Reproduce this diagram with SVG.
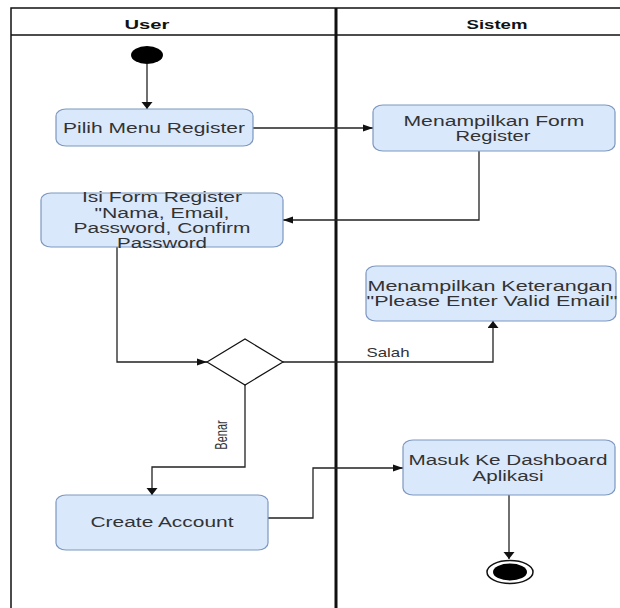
<svg xmlns="http://www.w3.org/2000/svg" width="620" height="608" viewBox="0 0 620 608">
<defs>
<style>
.lane{fill:none;stroke:#111;stroke-width:1.5}
.div{fill:none;stroke:#111;stroke-width:3}
.box{fill:#dae8fc;stroke:#7d97c0;stroke-width:1.2}
.t{font-family:"Liberation Sans",Arial,sans-serif;font-size:14px;fill:#333;text-anchor:middle}
.h{font-family:"Liberation Sans",Arial,sans-serif;font-size:13px;font-weight:bold;fill:#111;text-anchor:middle}
.lbl{font-family:"Liberation Sans",Arial,sans-serif;font-size:13px;fill:#333;text-anchor:middle}
.c{fill:none;stroke:#222;stroke-width:1.3}
</style>
<marker id="aH" markerUnits="userSpaceOnUse" markerWidth="12" markerHeight="10" refX="10" refY="4" orient="auto">
<path d="M0,0.5 L10,4 L0,7.5 Z" fill="#111"/>
</marker>
<marker id="aV" markerUnits="userSpaceOnUse" markerWidth="10" markerHeight="12" refX="7" refY="5.5" orient="auto">
<path d="M0,0 L7,5.5 L0,11 Z" fill="#111"/>
</marker>
</defs>
<rect width="620" height="608" fill="#fff"/>
<g id="swimlanes">
<path class="lane" d="M11,608 V8 H620"/>
<path class="lane" d="M11,35 H620"/>
<path class="div" d="M336,8 V608"/>
<text class="h" x="147" y="29" textLength="45" lengthAdjust="spacingAndGlyphs">User</text>
<text class="h" x="497" y="29" textLength="61" lengthAdjust="spacingAndGlyphs">Sistem</text>
</g>
<g id="connectors">
<path class="c" d="M147,64 V109" marker-end="url(#aV)"/>
<path class="c" d="M253,128 H373" marker-end="url(#aH)"/>
<path class="c" d="M479,151 V220 H283" marker-end="url(#aH)"/>
<path class="c" d="M117,247 V362 H207" marker-end="url(#aH)"/>
<path class="c" d="M283,362 H493 V321" marker-end="url(#aV)"/>
<path class="c" d="M245,384 V467 H152 V495" marker-end="url(#aV)"/>
<path class="c" d="M268,518 H313 V468 H403" marker-end="url(#aH)"/>
<path class="c" d="M509,495 V559" marker-end="url(#aV)"/>
<text class="lbl" x="388" y="357" textLength="43" lengthAdjust="spacingAndGlyphs">Salah</text>
<text class="lbl" style="font-size:11px" transform="translate(221,435) scale(1.5,1) rotate(-90)" y="4">Benar</text>
</g>
<g id="start">
<ellipse cx="147" cy="55" rx="16" ry="9" fill="#000"/>
</g>
<g id="pilih-menu">
<rect class="box" x="56" y="109" width="197" height="37" rx="10" ry="7"/>
<text class="t" x="154" y="133" textLength="182" lengthAdjust="spacingAndGlyphs">Pilih Menu Register</text>
</g>
<g id="tampil-form">
<rect class="box" x="373" y="105" width="242" height="46" rx="10" ry="7"/>
<text class="t" x="494" y="126" textLength="181" lengthAdjust="spacingAndGlyphs">Menampilkan Form</text>
<text class="t" x="493" y="141" textLength="75" lengthAdjust="spacingAndGlyphs">Register</text>
</g>
<g id="isi-form">
<rect class="box" x="41" y="193" width="242" height="54" rx="10" ry="7"/>
<text class="t" x="162" y="202" textLength="160" lengthAdjust="spacingAndGlyphs">Isi Form Register</text>
<text class="t" x="162" y="218" textLength="135" lengthAdjust="spacingAndGlyphs">"Nama, Email,</text>
<text class="t" x="162" y="233" textLength="177" lengthAdjust="spacingAndGlyphs">Password, Confirm</text>
<text class="t" x="162" y="248" textLength="90" lengthAdjust="spacingAndGlyphs">Password</text>
</g>
<g id="keterangan">
<rect class="box" x="366" y="266" width="250" height="55" rx="10" ry="7"/>
<text class="t" x="490" y="291" textLength="245" lengthAdjust="spacingAndGlyphs">Menampilkan Keterangan</text>
<text class="t" x="492" y="306" textLength="251" lengthAdjust="spacingAndGlyphs">"Please Enter Valid Email"</text>
</g>
<g id="decision">
<polygon points="207,362 245,339 283,362 245,385" fill="#fff" stroke="#111" stroke-width="1.2"/>
</g>
<g id="create-account">
<rect class="box" x="56" y="495" width="212" height="55" rx="10" ry="7"/>
<text class="t" x="162" y="527" textLength="143" lengthAdjust="spacingAndGlyphs">Create Account</text>
</g>
<g id="dashboard">
<rect class="box" x="403" y="440" width="212" height="55" rx="10" ry="7"/>
<text class="t" x="508" y="465" textLength="199" lengthAdjust="spacingAndGlyphs">Masuk Ke Dashboard</text>
<text class="t" x="508" y="481" textLength="71" lengthAdjust="spacingAndGlyphs">Aplikasi</text>
</g>
<g id="end">
<ellipse cx="510" cy="572" rx="23" ry="11.5" fill="#fff" stroke="#111" stroke-width="1.5"/>
<ellipse cx="510" cy="572" rx="17" ry="8.5" fill="#000"/>
</g>
</svg>
